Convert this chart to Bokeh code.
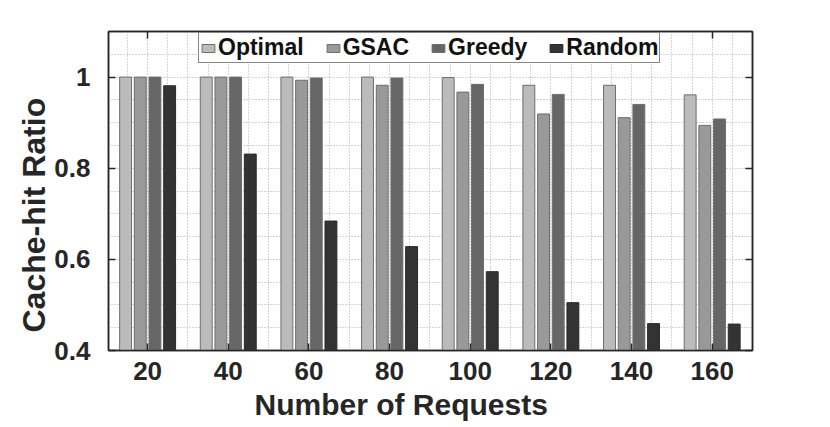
from bokeh.plotting import figure
from bokeh.models import (ColumnDataSource, FixedTicker, SingleIntervalTicker, LinearAxis,
                          Legend, LegendItem, NumeralTickFormatter, Range1d, Title)
from bokeh.transform import dodge
from bokeh.embed import file_html
from bokeh.resources import INLINE

# ---- data ----
requests = [20, 40, 60, 80, 100, 120, 140, 160]
optimal = [1.0, 1.0, 1.0, 1.0, 0.999, 0.982, 0.982, 0.961]
gsac = [1.0, 1.0, 0.993, 0.982, 0.967, 0.919, 0.911, 0.894]
greedy = [1.0, 1.0, 0.998, 0.998, 0.984, 0.962, 0.940, 0.908]
random_ = [0.981, 0.831, 0.684, 0.628, 0.573, 0.505, 0.459, 0.458]
series_names = ["Optimal", "GSAC", "Greedy", "Random"]
y_ticks = [0.4, 0.6, 0.8, 1.0]
x_label = "Number of Requests"
y_label = "Cache-hit Ratio"

# ---- style ----
FONT = "Liberation Sans"
TXT = "#262626"
colors = ["#bbbbbb", "#999999", "#666666", "#333333"]
edge = "#6e6e6e"
pitch = 3.64
bar_w = 2.95

src = ColumnDataSource(dict(x=requests, Optimal=optimal, GSAC=gsac, Greedy=greedy, Random=random_))

p = figure(width=830, height=427, output_backend="svg", toolbar_location=None,
           x_range=Range1d(10.3, 170), y_range=Range1d(0.4, 1.1),
           min_border_left=108, min_border_right=78, min_border_top=31, min_border_bottom=76)
p.background_fill_color = "white"
p.border_fill_color = "white"
p.outline_line_color = TXT
p.outline_line_width = 1.5

renderers = []
for i, (name, c) in enumerate(zip(series_names, colors)):
    off = (i - 1.5) * pitch
    r = p.vbar(x=dodge("x", off), top=name, bottom=0, width=bar_w, source=src,
               fill_color=c, line_color=edge if i < 3 else "#2a2a2a", line_width=1)
    renderers.append(r)

# grids
for g, iv in ((p.xgrid, 5), (p.ygrid, 0.05)):
    g.ticker = SingleIntervalTicker(interval=iv, num_minor_ticks=0)
    g.grid_line_color = "#aaaaaa"
    g.grid_line_dash = "1 2"
    g.grid_line_width = 1

# axes
def style_axis(ax):
    ax.axis_line_color = TXT
    ax.axis_line_width = 1.5
    ax.major_tick_line_color = TXT
    ax.major_tick_line_width = 1.5
    ax.major_tick_in = 7
    ax.major_tick_out = 0
    ax.minor_tick_in = 0
    ax.minor_tick_out = 0
    ax.major_label_text_font = FONT
    ax.major_label_text_font_style = "bold"
    ax.major_label_text_color = TXT
    ax.major_label_text_font_size = "26px"

xa = p.xaxis[0]
style_axis(xa)
xa.ticker = FixedTicker(ticks=requests)
xa.major_label_standoff = 11

ya = p.yaxis[0]
style_axis(ya)
ya.ticker = FixedTicker(ticks=y_ticks)
ya.formatter = NumeralTickFormatter(format="0.[0]")
ya.major_label_standoff = 18

top_ax = LinearAxis(ticker=FixedTicker(ticks=requests))
right_ax = LinearAxis(ticker=FixedTicker(ticks=y_ticks))
for ax in (top_ax, right_ax):
    style_axis(ax)
    ax.major_label_text_font_size = "1px"
    ax.major_label_text_color = None
    ax.major_label_standoff = 0
p.add_layout(top_ax, "above")
p.add_layout(right_ax, "right")

# axis titles, placed like the reference (not centred on the frame)
xt = Title(text=x_label, align="left", vertical_align="top", offset=146, standoff=10,
           text_font=FONT, text_font_style="bold", text_font_size="30px", text_color=TXT)
yt = Title(text=y_label, align="left", vertical_align="bottom", offset=18, standoff=0,
           text_font=FONT, text_font_style="bold", text_font_size="32px", text_color=TXT)
p.add_layout(xt, "below")
p.add_layout(yt, "left")

legend = Legend(items=[LegendItem(label=n, renderers=[r]) for n, r in zip(series_names, renderers)],
                orientation="horizontal", location=(90, 287))
legend.label_text_font = FONT
legend.label_text_font_style = "bold"
legend.label_text_font_size = "23px"
legend.label_text_color = "#111111"
legend.label_standoff = 2
legend.glyph_width = 16
legend.glyph_height = 10
legend.padding = 1
legend.spacing = 21
legend.margin = 0
legend.border_line_color = "#111111"
legend.border_line_width = 1.3
legend.background_fill_color = "white"
legend.background_fill_alpha = 1.0
p.add_layout(legend, "center")

open("out.html", "w").write(file_html(p, INLINE))
